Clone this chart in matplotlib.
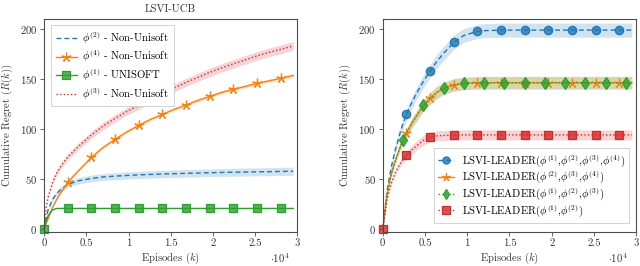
import matplotlib
matplotlib.use("Agg")
import matplotlib.pyplot as plt
import numpy as np

plt.rcParams["font.family"] = "cmr10"
plt.rcParams["mathtext.fontset"] = "cm"
plt.rcParams["axes.unicode_minus"] = False
plt.rcParams["axes.formatter.use_mathtext"] = True

# -------- DATA: LEFT PANEL (LSVI-UCB) --------
k_left = [0, 250, 500, 1000, 1500, 2000, 2800, 4000, 5600, 7000, 8400, 9800, 11200,
          12600, 14000, 15400, 16800, 18200, 19600, 21000, 22400, 23800, 25200,
          26600, 28000, 29500]
phi2_nonuni = [0, 12, 20, 30, 36, 40, 45, 48.5, 51, 52.5, 53.3, 54, 54.6, 55, 55.4,
               55.8, 56.1, 56.4, 56.7, 57, 57.2, 57.4, 57.6, 57.8, 58, 58.2]
phi2_nonuni_sd = [0, 1, 1.5, 2, 2.5, 3, 3, 3.2, 3.4, 3.5, 3.5, 3.6, 3.6, 3.7, 3.7,
                  3.8, 3.8, 3.8, 3.9, 3.9, 4, 4, 4, 4, 4.1, 4.1]
phi4_nonuni = [0, 6, 11, 22, 30, 37, 47, 58, 72, 82, 90, 97.5, 104, 110, 115, 120,
               124.5, 129, 133, 137, 140, 143, 146, 148.5, 151, 154]
phi4_nonuni_sd = [0, 0.3, 0.5, 0.8, 1, 1, 1.2, 1.2, 1.3, 1.3, 1.4, 1.4, 1.4, 1.5,
                  1.5, 1.5, 1.5, 1.6, 1.6, 1.6, 1.6, 1.7, 1.7, 1.7, 1.7, 1.8]
phi1_unisoft = [0, 8, 14, 19.5, 21, 21, 21, 21, 21, 21, 21, 21, 21, 21, 21, 21, 21,
                21, 21, 21, 21, 21, 21, 21, 21, 21]
phi3_nonuni = [0, 22, 33, 47, 56.5, 63.5, 72.5, 82.5, 94.5, 103.5, 111, 118, 124,
               130, 136, 141.5, 147, 152, 157, 161.5, 165.5, 169.5, 173.5, 177,
               180, 183.5]
phi3_nonuni_sd = [0, 1, 1.5, 2, 2.5, 2.8, 3, 3.3, 3.5, 3.6, 3.7, 3.8, 3.9, 4, 4, 4,
                  4.1, 4.1, 4.2, 4.2, 4.2, 4.3, 4.3, 4.3, 4.4, 4.4]

# -------- DATA: RIGHT PANEL (LSVI-LEADER) --------
k_right = [0, 500, 1000, 1500, 2000, 2400, 2800, 3500, 4200, 4800, 5600, 6400, 7200,
           8400, 9600, 11200, 12000, 14000, 14400, 16800, 19200, 19600, 21600,
           22400, 24000, 25200, 26400, 28000, 28800, 29500]
leader_1234 = [0, 38, 62, 80, 95, 106, 115, 128, 139, 148, 158, 168, 176, 187, 194,
               198, 198.8, 199.2, 199.3, 199.3, 199.3, 199.3, 199.3, 199.3, 199.3,
               199.3, 199.3, 199.3, 199.3, 199.3]
leader_1234_sd = [0, 2, 3, 4, 4.5, 5, 5.5, 6, 6, 6.5, 6.5, 7, 7, 7, 7, 7, 7, 7, 7,
                  7, 7, 7, 7, 7, 7, 7, 7, 7, 7, 7]
leader_234 = [0, 35, 55, 69, 81, 89, 96, 107, 116, 123, 131, 137, 141, 144.5, 146,
              146.6, 146.7, 146.7, 146.7, 146.7, 146.7, 146.7, 146.7, 146.7, 146.7,
              146.7, 146.7, 146.7, 146.7, 146.7]
leader_123 = [0, 35, 55, 69, 81, 89, 96, 107, 116, 124, 131, 137, 141, 144.5, 146,
              146.6, 146.7, 146.7, 146.7, 146.7, 146.7, 146.7, 146.7, 146.7, 146.7,
              146.7, 146.7, 146.7, 146.7, 146.7]
leader_3way_sd = [0, 1.5, 2.5, 3, 3.5, 4, 4.5, 5, 5.5, 5.5, 6, 6, 6, 6.3, 6.3, 6.3,
                  6.3, 6.3, 6.3, 6.3, 6.3, 6.3, 6.3, 6.3, 6.3, 6.3, 6.3, 6.3, 6.3,
                  6.3]
leader_12 = [0, 30, 46, 57, 65, 70, 74, 80, 85, 89, 92.5, 93.5, 94, 94.3, 94.5, 94.5,
             94.5, 94.5, 94.5, 94.5, 94.5, 94.5, 94.5, 94.5, 94.5, 94.5, 94.5,
             94.5, 94.5, 94.5]
leader_12_sd = [0, 1.5, 2, 2.5, 3, 3.5, 4, 4.5, 4.5, 5, 5, 5, 5, 5, 5, 5, 5, 5, 5,
                5, 5, 5, 5, 5, 5, 5, 5, 5, 5, 5]

xtick_vals = [0, 5000, 10000, 15000, 20000, 25000, 30000]
xtick_labels = ["0", "0.5", "1", "1.5", "2", "2.5", "3"]
ytick_vals = [0, 50, 100, 150, 200]

BLUE, ORANGE, GREEN, RED = "#1f77b4", "#ff7f0e", "#2ca02c", "#d62728"
FS = 7.7
TXT = "#333333"


def band(ax, x, y, sd, color):
    y = np.asarray(y)
    sd = np.asarray(sd)
    ax.fill_between(x, y - sd, y + sd, color=color, alpha=0.2, lw=0)


def curve(ax, x, y, color, ls, marker=None, every=None, ms=6, label=None):
    ax.plot(x, y, color=color, ls=ls, lw=1.0, marker=marker, markevery=every,
            ms=ms, mfc=matplotlib.colors.to_rgba(color, 0.8), mec=color,
            mew=0.9, label=label, clip_on=False)


def style_axes(ax):
    ax.set_xlim(0, 30000)
    ax.set_ylim(-2.5, 210)
    ax.set_xticks(xtick_vals)
    ax.set_xticklabels(xtick_labels)
    ax.set_yticks(ytick_vals)
    for s in ["top", "right", "bottom", "left"]:
        ax.spines[s].set_color("#4d4d4d")
        ax.spines[s].set_linewidth(0.8)
    ax.tick_params(direction="out", length=3, width=0.6, color="#4d4d4d",
                   labelsize=FS, labelcolor=TXT, pad=2)
    ax.set_xlabel("Episodes $(k)$", fontsize=FS, color=TXT, labelpad=1.5)
    ax.set_ylabel("Cumulative Regret $(R(k))$", fontsize=FS, color=TXT,
                  labelpad=3.5)
    ax.text(0.89, -0.122, r"$\cdot 10^4$", transform=ax.transAxes, fontsize=FS,
            color=TXT, ha="left", va="center")


fig = plt.figure(figsize=(6.4, 2.66), dpi=100)
ax1 = fig.add_axes([0.0688, 0.128, 0.396, 0.799])
ax2 = fig.add_axes([0.598, 0.128, 0.396, 0.799])

# -------- LEFT: LSVI-UCB --------
marks_left = [6, 8, 10, 12, 14, 16, 18, 20, 22, 24]
band(ax1, k_left, phi2_nonuni, phi2_nonuni_sd, BLUE)
band(ax1, k_left, phi4_nonuni, phi4_nonuni_sd, ORANGE)
band(ax1, k_left, phi3_nonuni, phi3_nonuni_sd, RED)
curve(ax1, k_left, phi2_nonuni, BLUE, (0, (3.5, 2.2)),
      label=r"$\phi^{(2)}$ - Non-Unisoft")
curve(ax1, k_left, phi4_nonuni, ORANGE, "-", marker=(5, 2, 0), every=marks_left,
      ms=7, label=r"$\phi^{(4)}$ - Non-Unisoft")
curve(ax1, k_left, phi1_unisoft, GREEN, "-", marker="s", every=[0] + marks_left,
      ms=6, label=r"$\phi^{(1)}$ - UNISOFT")
curve(ax1, k_left, phi3_nonuni, RED, (0, (1, 1.6)),
      label=r"$\phi^{(3)}$ - Non-Unisoft")
style_axes(ax1)
ax1.set_title("LSVI-UCB", fontsize=FS, color=TXT, pad=5)
leg1 = ax1.legend(loc="upper left", bbox_to_anchor=(0.027, 0.975), fontsize=FS,
                  handlelength=2.0, handletextpad=0.5, labelspacing=0.2,
                  borderpad=0.45, borderaxespad=0, fancybox=False, framealpha=1,
                  edgecolor="#cccccc")
leg1.get_frame().set_linewidth(0.6)

# -------- RIGHT: LSVI-LEADER --------
marks_2800 = [6, 10, 13, 15, 17, 19, 21, 23, 25, 27]
marks_2400 = [5, 9, 12, 14, 16, 18, 19, 20, 22, 24, 26, 28]
band(ax2, k_right, leader_1234, leader_1234_sd, BLUE)
band(ax2, k_right, leader_234, leader_3way_sd, ORANGE)
band(ax2, k_right, leader_123, leader_3way_sd, GREEN)
band(ax2, k_right, leader_12, leader_12_sd, RED)
curve(ax2, k_right, leader_1234, BLUE, (0, (3.5, 2.2)), marker="o",
      every=marks_2800, ms=6,
      label=r"LSVI-LEADER($\phi^{(1)}$,$\phi^{(2)}$,$\phi^{(3)}$,$\phi^{(4)}$)")
curve(ax2, k_right, leader_234, ORANGE, "-", marker=(5, 2, 0), every=marks_2800,
      ms=7, label=r"LSVI-LEADER($\phi^{(2)}$,$\phi^{(3)}$,$\phi^{(4)}$)")
curve(ax2, k_right, leader_123, GREEN, (0, (1, 1.6)), marker="d",
      every=marks_2400, ms=6,
      label=r"LSVI-LEADER($\phi^{(1)}$,$\phi^{(2)}$,$\phi^{(3)}$)")
curve(ax2, k_right, leader_12, RED, (0, (1, 1.6)), marker="s",
      every=[0] + marks_2800, ms=6,
      label=r"LSVI-LEADER($\phi^{(1)}$,$\phi^{(2)}$)")
style_axes(ax2)
leg2 = ax2.legend(loc="lower right", bbox_to_anchor=(0.972, 0.044), fontsize=FS,
                  handlelength=1.5, handletextpad=0.8, labelspacing=0.0,
                  borderpad=0.35, borderaxespad=0, fancybox=False, framealpha=1,
                  edgecolor="#cccccc", markerscale=0.85, handleheight=0.5)
leg2.get_frame().set_linewidth(0.6)

fig.savefig("out.png", dpi=100)
